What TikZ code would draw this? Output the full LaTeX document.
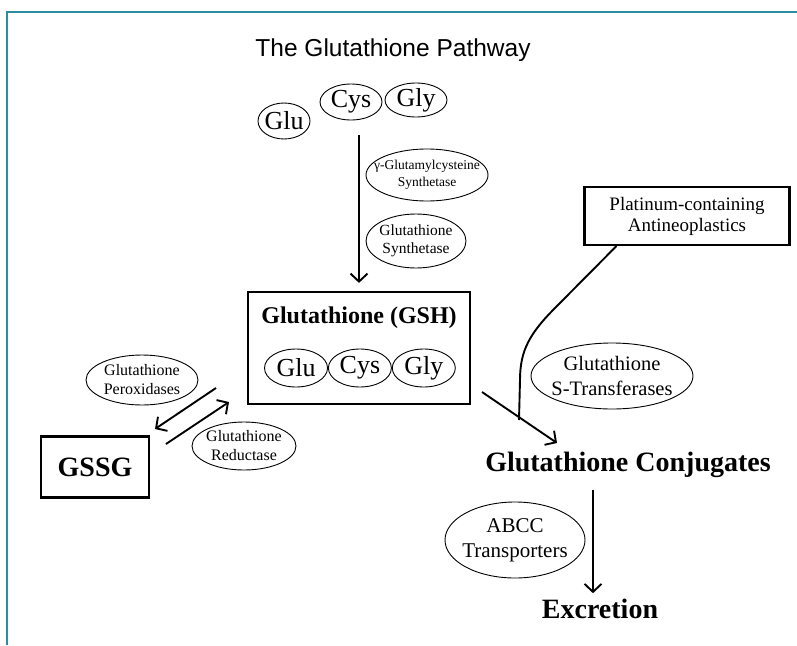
\documentclass[tikz,border=0pt]{standalone}
\usepackage{fontspec}
\setmainfont{Liberation Serif}
\newfontfamily\titlefont{Liberation Sans}
\usetikzlibrary{shapes.geometric,arrows.meta,positioning}
\definecolor{FrameTeal}{RGB}{45,140,160}

\begin{document}
\begin{tikzpicture}
  [x=1pt,y=-1pt,line width=1.9pt,>={Straight Barb[length=8pt,width=17pt]},
   every node/.style={inner sep=0pt},
   aa/.style={ellipse,draw,line width=0.9pt,inner sep=-40pt,minimum width=63,minimum height=38,font=\fontsize{26}{28}\selectfont},
   enz/.style={ellipse,draw,line width=0.9pt,inner sep=-60pt,align=center},
   box/.style={rectangle,draw,line width=2.2pt},
   big/.style={font=\bfseries\fontsize{28}{30}\selectfont}]
  \useasboundingbox (0,0) rectangle (797,645);
  \draw[FrameTeal,line width=2pt] (797,12) -- (7,12) -- (7,645);

  \node (title) [font=\titlefont\fontsize{24.5}{26}\selectfont] at (393,50) {The Glutathione Pathway};
  % free amino acids
  \node (tglu) [aa,minimum width=52,minimum height=36] at (284,121) {Glu};
  \node (tcys) [aa,minimum width=62,minimum height=36] at (351,102) {Cys};
  \node (tgly) [aa,minimum width=62,minimum height=34] at (416,100) {Gly};

  \node (gcs) [enz,minimum width=122,minimum height=52,font=\fontsize{13.5}{17}\selectfont] at (427,175) {γ-Glutamylcysteine\\Synthetase};
  \node (gs) [enz,minimum width=100,minimum height=54,font=\fontsize{15.5}{18}\selectfont] at (416,241) {Glutathione\\Synthetase};

  % GSH
  \node (gsh) [box,minimum width=222,minimum height=112] at (359,348) {};
  \node (gshlabel) [font=\bfseries\fontsize{24}{26}\selectfont] at (359,318) {Glutathione (GSH)};
  \node (glu) [aa] at (296,368) {Glu};
  \node (cys) [aa,right=0pt of glu] {Cys};
  \node (gly) [aa,right=0pt of cys] {Gly};

  \node (plat) [box,minimum width=205,minimum height=58,align=center,font=\fontsize{19}{21}\selectfont] at (687,216) {Platinum-containing\\Antineoplastics};
  \node (gst) [enz,minimum width=162,minimum height=66,font=\fontsize{20.5}{25}\selectfont] at (612,376) {Glutathione\\S-Transferases};

  \node (conj) [big] at (628,465) {Glutathione Conjugates};
  \node (abcc) [enz,minimum width=140,minimum height=76,font=\fontsize{21}{25}\selectfont] at (515,540) {ABCC\\Transporters};
  \node (excr) [big] at (600,609) {Excretion};

  \node (gssg) [box,minimum width=108,minimum height=61,big] at (95,467) {GSSG};
  \node (gpx) [enz,minimum width=112,minimum height=50,font=\fontsize{16}{19}\selectfont] at (142,380) {Glutathione\\Peroxidases};
  \node (gr) [enz,minimum width=104,minimum height=48,font=\fontsize{16}{19}\selectfont] at (244,446) {Glutathione\\Reductase};

  \coordinate (gshout) at (482,392);
  \coordinate (conjin) at (557,443);
  \coordinate (platjoin) at (519,420);
  \coordinate (gpxstart) at (216,388);
  \coordinate (gpxend) at (155,429);
  \coordinate (grstart) at (166,444);
  \coordinate (grend) at (229,402);

  \draw[->,shorten >=8pt] (gsh.north |- 0,135) -- (gsh.north);
  \draw[->] (gshout) -- (conjin);
  \draw ([xshift=33pt]plat.south west) -- (556,307) .. controls (530,333) and (520,350) .. (520,380) -- (platjoin);
  \draw[->,shorten <=11pt,shorten >=5pt] (conj.south -| 593,0) -- (excr.north -| 593,0);
  \draw[->] (gpxstart) -- (gpxend);
  \draw[->] (grstart) -- (grend);
\end{tikzpicture}
\end{document}
